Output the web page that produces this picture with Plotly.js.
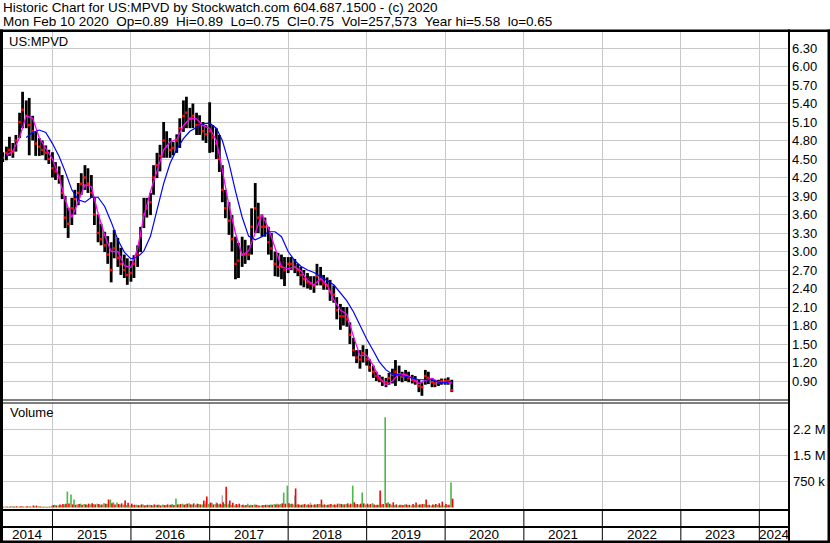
<!DOCTYPE html>
<html><head><meta charset="utf-8">
<script src="https://cdn.plot.ly/plotly-3.0.1.min.js"></script>
<style>html,body{margin:0;padding:0;background:#fff}#chart{width:830px;height:543px}</style>
</head><body><div id="chart"></div>
<script>
// ---- semi-monthly price bars ----
const dates = [
"2014-05-15","2014-06-01","2014-06-15","2014-07-01","2014-07-15","2014-08-01","2014-08-15","2014-09-01","2014-09-15","2014-10-01","2014-10-15","2014-11-01","2014-11-15","2014-12-01","2014-12-15",
"2015-01-01","2015-01-15","2015-02-01","2015-02-15","2015-03-01","2015-03-15","2015-04-01","2015-04-15","2015-05-01","2015-05-15","2015-06-01","2015-06-15","2015-07-01","2015-07-15","2015-08-01","2015-08-15","2015-09-01","2015-09-15","2015-10-01","2015-10-15","2015-11-01","2015-11-15","2015-12-01","2015-12-15",
"2016-01-01","2016-01-15","2016-02-01","2016-02-15","2016-03-01","2016-03-15","2016-04-01","2016-04-15","2016-05-01","2016-05-15","2016-06-01","2016-06-15","2016-07-01","2016-07-15","2016-08-01","2016-08-15","2016-09-01","2016-09-15","2016-10-01","2016-10-15","2016-11-01","2016-11-15","2016-12-01","2016-12-15",
"2017-01-01","2017-01-15","2017-02-01","2017-02-15","2017-03-01","2017-03-15","2017-04-01","2017-04-15","2017-05-01","2017-05-15","2017-06-01","2017-06-15","2017-07-01","2017-07-15","2017-08-01","2017-08-15","2017-09-01","2017-09-15","2017-10-01","2017-10-15","2017-11-01","2017-11-15","2017-12-01","2017-12-15",
"2018-01-01","2018-01-15","2018-02-01","2018-02-15","2018-03-01","2018-03-15","2018-04-01","2018-04-15","2018-05-01","2018-05-15","2018-06-01","2018-06-15","2018-07-01","2018-07-15","2018-08-01","2018-08-15","2018-09-01","2018-09-15","2018-10-01","2018-10-15","2018-11-01","2018-11-15","2018-12-01","2018-12-15",
"2019-01-01","2019-01-15","2019-02-01","2019-02-15","2019-03-01","2019-03-15","2019-04-01","2019-04-15","2019-05-01","2019-05-15","2019-06-01","2019-06-15","2019-07-01","2019-07-15","2019-08-01","2019-08-15","2019-09-01","2019-09-15","2019-10-01","2019-10-15","2019-11-01","2019-11-15","2019-12-01","2019-12-15",
"2020-01-01","2020-01-15","2020-02-01"];

const highs = [
4.61,4.70,4.86,4.76,4.89,5.25,5.59,5.45,5.49,5.20,4.94,4.84,4.80,4.72,4.65,
4.61,4.45,4.38,4.24,3.90,3.71,3.87,4.00,4.11,4.27,4.40,4.35,4.24,3.87,3.60,3.45,3.32,3.25,3.15,3.35,3.22,3.06,2.95,2.89,
2.85,2.94,3.10,3.40,3.87,3.87,3.95,4.40,4.60,4.73,5.10,4.95,4.84,4.78,4.90,5.16,5.45,5.51,5.33,5.40,5.25,5.21,5.10,5.05,
5.42,5.05,5.00,4.89,4.40,4.00,3.80,3.59,3.24,3.14,3.24,3.19,3.10,3.70,4.11,3.79,3.60,3.55,3.40,3.30,3.00,2.98,2.95,2.91,
2.91,2.91,2.88,2.80,2.75,2.70,2.65,2.60,2.60,2.80,2.75,2.62,2.58,2.54,2.45,2.26,2.15,2.10,2.10,1.85,1.60,1.40,1.40,1.48,
1.42,1.25,1.15,1.05,1.00,0.97,0.95,1.03,1.10,1.24,1.15,1.05,1.08,1.05,1.00,0.98,0.92,0.88,1.08,1.05,0.95,0.92,0.92,0.94,
0.94,0.96,0.92];

const lows = [
4.45,4.48,4.55,4.52,4.62,4.84,5.00,5.00,4.56,4.80,4.55,4.55,4.56,4.48,4.42,
4.20,4.16,4.10,3.85,3.38,3.22,3.43,3.60,3.75,3.92,4.00,3.95,3.87,3.43,3.15,3.10,2.99,2.80,2.50,2.89,2.75,2.62,2.57,2.46,
2.51,2.57,2.75,2.99,3.38,3.55,3.59,3.92,4.19,4.30,4.52,4.52,4.52,4.56,4.60,4.68,4.94,5.00,5.00,5.00,4.89,4.89,4.80,4.76,
4.60,4.61,4.50,4.29,3.80,3.54,3.27,3.00,2.55,2.57,2.75,2.80,2.86,2.95,3.30,3.30,3.24,3.24,2.95,2.86,2.60,2.59,2.55,2.44,
2.65,2.70,2.65,2.60,2.45,2.42,2.40,2.38,2.33,2.45,2.45,2.38,2.38,2.20,2.17,1.90,1.73,1.80,1.78,1.50,1.30,1.19,1.10,1.20,
1.15,1.05,0.95,0.90,0.88,0.82,0.80,0.84,0.86,0.82,0.90,0.88,0.90,0.88,0.86,0.84,0.72,0.66,0.84,0.85,0.80,0.80,0.82,0.84,
0.84,0.84,0.72];

const closes = [
4.52,4.60,4.65,4.62,4.80,5.10,5.30,5.20,5.05,4.95,4.75,4.70,4.65,4.60,4.50,
4.35,4.30,4.20,3.95,3.55,3.45,3.70,3.85,3.95,4.10,4.20,4.10,3.95,3.60,3.30,3.20,3.10,2.95,2.70,3.05,2.90,2.80,2.70,2.62,
2.65,2.80,2.95,3.25,3.60,3.70,3.80,4.20,4.40,4.55,4.80,4.70,4.65,4.68,4.80,5.00,5.20,5.25,5.15,5.20,5.05,5.05,4.95,4.90,
4.95,4.85,4.75,4.50,4.00,3.70,3.50,3.20,2.80,2.85,2.95,2.95,2.95,3.40,3.70,3.55,3.40,3.40,3.15,3.05,2.80,2.75,2.75,2.70,
2.80,2.80,2.75,2.70,2.62,2.55,2.50,2.48,2.45,2.60,2.55,2.48,2.45,2.35,2.30,2.05,1.95,1.95,1.90,1.65,1.40,1.28,1.25,1.35,
1.25,1.12,1.05,0.98,0.93,0.90,0.88,0.95,1.00,1.05,1.00,0.97,1.00,0.95,0.92,0.90,0.82,0.80,0.98,0.95,0.88,0.86,0.88,0.90,
0.90,0.90,0.75];

// ---- volume (thousands of shares), same dates ----
const volUp = [
25,30,20,35,30,25,40,30,25,20,30,35,25,30,20,
50,80,60,70,90,460,375,230,90,110,100,80,90,100,110,80,120,100,230,150,145,90,80,70,
60,70,80,60,90,70,80,60,70,80,90,70,80,100,260,90,110,100,120,90,80,100,90,110,
100,140,100,90,80,100,90,70,60,80,70,60,110,80,90,70,60,70,80,90,100,110,100,430,
630,100,90,80,70,90,80,70,80,90,100,80,70,90,80,70,110,90,100,80,630,100,90,430,
90,80,125,70,80,90,2600,150,80,70,60,80,90,70,60,70,80,90,100,70,60,80,70,60,
60,70,720];
const volDown = [
20,25,30,25,35,30,25,35,30,60,55,30,25,20,25,
70,60,90,100,110,115,90,80,100,80,90,110,120,90,100,90,110,230,120,90,100,120,200,140,
110,80,70,90,60,80,70,90,80,60,70,90,80,70,90,100,80,110,90,120,110,90,200,320,
140,90,120,110,150,600,200,140,100,110,80,70,60,70,80,60,70,80,70,80,90,90,120,110,
120,110,550,90,80,100,90,80,90,100,230,90,80,100,90,110,100,90,120,110,150,100,110,120,
110,100,90,80,490,100,120,110,150,90,80,70,90,80,100,145,90,100,230,80,90,100,120,170,
100,80,257];
const volFlat = [
0,0,0,0,0,0,0,0,0,0,0,0,0,0,0,
0,0,0,0,0,0,0,0,0,0,0,0,0,0,0,0,0,0,0,0,0,0,0,0,
0,0,0,0,0,0,0,0,0,0,0,0,0,0,0,0,0,0,0,0,0,0,0,190,
0,0,150,0,350,0,120,0,0,0,0,0,0,0,0,0,0,0,0,0,0,0,0,0,
0,0,345,100,0,0,0,140,0,0,0,0,0,0,0,0,0,0,0,0,0,0,0,0,
0,0,0,0,0,0,0,0,0,0,0,0,0,0,0,0,0,85,0,0,0,0,0,0,
0,0,0];

// ---- moving averages, monthly readings ----
const maDates = [
"2014-06-01","2014-07-01","2014-08-01","2014-09-01","2014-10-01","2014-11-01","2014-12-01",
"2015-01-01","2015-02-01","2015-03-01","2015-04-01","2015-05-01","2015-06-01","2015-07-01","2015-08-01","2015-09-01","2015-10-01","2015-11-01","2015-12-01",
"2016-01-01","2016-02-01","2016-03-01","2016-04-01","2016-05-01","2016-06-01","2016-07-01","2016-08-01","2016-09-01","2016-10-01","2016-11-01","2016-12-01",
"2017-01-01","2017-02-01","2017-03-01","2017-04-01","2017-05-01","2017-06-01","2017-07-01","2017-08-01","2017-09-01","2017-10-01","2017-11-01","2017-12-01",
"2018-01-01","2018-02-01","2018-03-01","2018-04-01","2018-05-01","2018-06-01","2018-07-01","2018-08-01","2018-09-01","2018-10-01","2018-11-01","2018-12-01",
"2019-01-01","2019-02-01","2019-03-01","2019-04-01","2019-05-01","2019-06-01","2019-07-01","2019-08-01","2019-09-01","2019-10-01","2019-11-01","2019-12-01",
"2020-01-01","2020-02-01"];
const maShort = [
4.56,4.63,4.85,5.20,5.16,4.84,4.67,
4.50,4.20,3.84,3.55,3.80,4.08,4.05,3.62,3.26,3.00,3.00,2.77,
2.74,3.05,3.57,3.98,4.30,4.65,4.78,4.82,5.04,5.16,5.15,5.04,
5.00,4.80,4.32,3.74,3.30,2.94,3.01,3.30,3.60,3.38,3.05,2.75,
2.72,2.75,2.69,2.53,2.46,2.56,2.46,2.22,2.05,1.98,1.62,1.31,
1.32,1.15,0.95,0.84,0.90,1.02,1.00,0.95,0.86,0.91,0.94,0.88,
0.87,0.88];
const maLong = [
null,null,null,4.85,4.93,4.97,4.93,
4.75,4.54,4.30,4.00,3.84,3.80,3.88,3.88,3.73,3.48,3.19,2.99,
2.88,2.91,3.01,3.25,3.67,4.10,4.43,4.66,4.83,4.95,5.01,5.07,
5.08,5.00,4.80,4.43,3.98,3.56,3.25,3.19,3.24,3.32,3.32,3.24,
3.00,2.85,2.76,2.70,2.66,2.60,2.53,2.46,2.32,2.20,2.02,1.79,
1.58,1.39,1.21,1.08,1.01,1.00,0.97,0.95,0.92,0.92,0.92,0.88,
0.87,0.90];

// ---- axis labels ----
const priceTicks = [0.90,1.20,1.50,1.80,2.10,2.40,2.70,3.00,3.30,3.60,3.90,4.20,4.50,4.80,5.10,5.40,5.70,6.00,6.30];
const volTicks = [750,1500,2250];
const volTickText = ["750 k","1.5 M","2.2 M"];
const years = ["2014","2015","2016","2017","2018","2019","2020","2021","2022","2023","2024"];
const xStart = "2014-05-16", xEnd = "2024-05-18";
const headerLine1 = "Historic Chart for US:MPVD by Stockwatch.com 604.687.1500 - (c) 2020";
const headerLine2 = "Mon Feb 10 2020\u00a0\u00a0Op=0.89\u00a0\u00a0Hi=0.89\u00a0\u00a0Lo=0.75\u00a0\u00a0Cl=0.75\u00a0\u00a0Vol=257,573\u00a0\u00a0Year hi=5.58\u00a0\u00a0lo=0.65";

// ---- layout helpers (pixel -> paper) ----
const W = 830, H = 543;
const fx = px => px / W;
const fy = py => 1 - py / H;
const DAY = 86400000;
const FONT = "Arial, 'Liberation Sans', sans-serif";
const GRID = "#c8c8c8";

const traces = [
  {type:"bar", x:dates, base:lows, y:highs.map((h,i)=>h-lows[i]), width:13*DAY,
   marker:{color:"#000", line:{width:0}}, xaxis:"x", yaxis:"y", hoverinfo:"skip"},
  {type:"scatter", mode:"markers", x:dates, y:closes, marker:{symbol:"square", size:2.5, color:"#ff0000"},
   xaxis:"x", yaxis:"y", hoverinfo:"skip"},
  {type:"scatter", mode:"lines", x:maDates, y:maShort, line:{color:"#ff00ff", width:1.3}, xaxis:"x", yaxis:"y"},
  {type:"scatter", mode:"lines", x:maDates, y:maLong, line:{color:"#0000ff", width:1.2}, xaxis:"x", yaxis:"y"},
  {type:"bar", x:dates, y:volFlat, width:7*DAY, offset:-3.5*DAY, marker:{color:"#a8a8a8", line:{width:0}}, xaxis:"x2", yaxis:"y2"},
  {type:"bar", x:dates, y:volUp, width:7.5*DAY, offset:-7.5*DAY, marker:{color:"#4cb848", line:{width:0}}, xaxis:"x2", yaxis:"y2"},
  {type:"bar", x:dates, y:volDown, width:7.5*DAY, offset:0, marker:{color:"#ff0000", line:{width:0}}, xaxis:"x2", yaxis:"y2"}
];

function rect(x0,y0,x1,y1){
  return {type:"rect", xref:"paper", yref:"paper", x0:fx(x0), x1:fx(x1), y0:fy(y1), y1:fy(y0),
          fillcolor:"#000", line:{width:0}, layer:"above"};
}
const shapes = [
  rect(0,29.5,830,32), rect(0,29.5,3,543), rect(788,29.5,790,543), rect(827.5,29.5,830,543),
  rect(0,540.5,830,543), rect(0,399.5,789,400.5), rect(0,402.5,789,403.5),
  rect(0,509,789,511), rect(0,526,789,528)
];
// year dividers in the date band
const bounds = [xStart].concat(years.slice(1).map(y => y + "-01-01")).concat([xEnd]);
years.slice(1).forEach(y => {
  shapes.push({type:"line", xref:"x", yref:"paper", x0:y+"-01-01", x1:y+"-01-01", y0:fy(540.5), y1:fy(511),
               line:{color:"#000", width:1}, layer:"above"});
});

const annotations = [
  {text:headerLine1, xref:"paper", yref:"paper", x:fx(1), y:fy(8), xanchor:"left", yanchor:"middle", showarrow:false, font:{family:FONT,size:13.5,color:"#000"}},
  {text:headerLine2, xref:"paper", yref:"paper", x:fx(1), y:fy(21.5), xanchor:"left", yanchor:"middle", showarrow:false, font:{family:FONT,size:13.5,color:"#000"}},
  {text:"US:MPVD", xref:"paper", yref:"paper", x:fx(7), y:fy(41.5), xanchor:"left", yanchor:"middle", showarrow:false, font:{family:FONT,size:13,color:"#000"}},
  {text:"Volume", xref:"paper", yref:"paper", x:fx(8), y:fy(413), xanchor:"left", yanchor:"middle", showarrow:false, font:{family:FONT,size:13,color:"#000"}}
];
years.forEach((y,i) => {
  const mid = (Date.parse(bounds[i]) + Date.parse(bounds[i+1])) / 2;
  annotations.push({text:y, xref:"x", yref:"paper", x:new Date(mid).toISOString().replace("T"," ").slice(0,19),
    y:fy(534.5), xanchor:"center", yanchor:"middle", showarrow:false, font:{family:FONT,size:13.5,color:"#000"}});
});

const xCommon = {type:"date", range:[xStart,xEnd], domain:[fx(3),fx(789)], showticklabels:false, ticks:"",
  showgrid:true, gridcolor:GRID, gridwidth:1, dtick:"M12", tick0:"2015-01-01", zeroline:false, showline:false, fixedrange:true};

const layout = {
  width:W, height:H, margin:{l:0,r:0,t:0,b:0}, paper_bgcolor:"#fff", plot_bgcolor:"#fff",
  showlegend:false, barmode:"overlay", font:{family:FONT, size:13, color:"#000"},
  xaxis:Object.assign({}, xCommon, {anchor:"y"}),
  xaxis2:Object.assign({}, xCommon, {anchor:"y2", matches:"x"}),
  yaxis:{domain:[fy(400),fy(32)], range:[0.592,6.5595], side:"right", anchor:"x", tickmode:"array",
    tickvals:priceTicks, ticktext:priceTicks.map(v=>v.toFixed(2)), ticks:"", ticklen:0, ticklabelstandoff:2,
    showgrid:true, gridcolor:GRID, gridwidth:1, zeroline:false, showline:false, tickfont:{family:FONT,size:13,color:"#000"}, fixedrange:true},
  yaxis2:{domain:[fy(509),fy(403)], range:[-43,3014], side:"right", anchor:"x2", tickmode:"array",
    tickvals:volTicks, ticktext:volTickText, ticks:"", ticklen:0, ticklabelstandoff:3,
    showgrid:true, gridcolor:GRID, gridwidth:1, zeroline:false, showline:false, tickfont:{family:FONT,size:13,color:"#000"}, fixedrange:true},
  shapes:shapes, annotations:annotations
};

Plotly.newPlot("chart", traces, layout, {displayModeBar:false, staticPlot:true});
</script>
</body></html>
